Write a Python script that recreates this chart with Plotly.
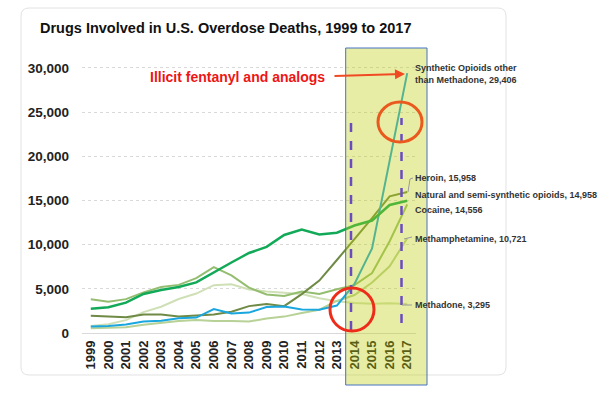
import plotly.graph_objects as go

years = ["1999", "2000", "2001", "2002", "2003", "2004", "2005", "2006", "2007", "2008",
         "2009", "2010", "2011", "2012", "2013", "2014", "2015", "2016", "2017"]

synthetic = [730, 782, 957, 1295, 1400, 1664, 1742, 2707, 2213, 2306, 2946, 3007, 2666, 2628, 3105, 5544, 9580, 19413, 29406]
heroin = [1960, 1842, 1779, 2089, 2080, 1878, 2009, 2088, 2399, 3041, 3278, 3036, 4397, 5925, 8257, 10574, 12989, 15469, 15958]
natural = [2749, 2917, 3434, 4416, 4867, 5197, 5731, 6900, 7978, 9049, 9748, 11089, 11693, 11140, 11346, 12159, 12727, 14487, 14958]
cocaine = [3822, 3544, 3833, 4599, 5199, 5443, 6208, 7448, 6512, 5129, 4350, 4183, 4681, 4404, 4944, 5415, 6784, 10375, 14556]
meth = [547, 578, 650, 930, 1163, 1358, 1479, 1357, 1348, 1302, 1632, 1854, 2266, 2635, 3627, 4298, 5716, 7542, 10721]
methadone = [784, 986, 1456, 2358, 2972, 3845, 4460, 5406, 5518, 4924, 4696, 4577, 4418, 3932, 3591, 3400, 3301, 3373, 3295]

y_ticks = [0, 5000, 10000, 15000, 20000, 25000, 30000]

labels = [
    ("Synthetic Opioids other<br>than Methadone, 29,406", 29300),
    ("Heroin, 15,958", 17550),
    ("Natural and semi-synthetic opioids, 14,958", 15620),
    ("Cocaine, 14,556", 13925),
    ("Methamphetamine, 10,721", 10640),
    ("Methadone, 3,295", 3170),
]

series = [
    ("Methadone", methadone, "#cfe0b6", 2),
    ("Methamphetamine", meth, "#b7d196", 2),
    ("Cocaine", cocaine, "#94bd70", 2),
    ("Heroin", heroin, "#6f8a45", 2),
    ("Synthetic", synthetic, "#1aa6de", 2),
    ("Natural", natural, "#12aa58", 2.5),
]

W, H = 609, 398
ML, MR, MT, MB = 82, 193, 59, 65
PW, PH = W - ML - MR, H - MT - MB


def px(x):
    return (x - ML) / PW


def py(y):
    return (H - MB - y) / PH


fig = go.Figure()
for name, vals, color, width in series:
    fig.add_trace(go.Scatter(x=years, y=vals, mode="lines", name=name,
                             line=dict(color=color, width=width), showlegend=False))

# card outline (rounded rectangle)
x0, x1, y0, y1, r = 21, 506, 8, 375, 8
pts = [
    ("M", x0 + r, y0), ("L", x1 - r, y0), ("Q", x1, y0, x1, y0 + r), ("L", x1, y1 - r),
    ("Q", x1, y1, x1 - r, y1), ("L", x0 + r, y1), ("Q", x0, y1, x0, y1 - r),
    ("L", x0, y0 + r), ("Q", x0, y0, x0 + r, y0),
]
path = ""
for p in pts:
    cmd = p[0]
    coords = p[1:]
    seg = []
    for i in range(0, len(coords), 2):
        seg.append(f"{px(coords[i]):.5f},{py(coords[i + 1]):.5f}")
    path += cmd + " ".join(seg) + " "
path += "Z"

shapes = [
    dict(type="path", path=path, xref="paper", yref="paper", layer="below",
         line=dict(color="#e2e2e2", width=1), fillcolor="rgba(0,0,0,0)"),
    dict(type="rect", xref="paper", yref="paper", x0=px(345.7), x1=px(427), y0=py(385), y1=py(48),
         fillcolor="rgba(191,205,5,0.36)", line=dict(color="#4472c4", width=1), layer="above"),
    dict(type="line", xref="paper", yref="paper", x0=px(351), x1=px(351), y0=py(330), y1=py(118),
         line=dict(color="#6a4cc0", width=2.5, dash="dash"), layer="above"),
    dict(type="line", xref="paper", yref="paper", x0=px(401.5), x1=px(401.5), y0=py(323), y1=py(118),
         line=dict(color="#6a4cc0", width=2.5, dash="dash"), layer="above"),
    dict(type="circle", xref="paper", yref="paper", x0=px(378), x1=px(422), y0=py(142), y1=py(102),
         line=dict(color="#ea5a1e", width=3), layer="above"),
    dict(type="circle", xref="paper", yref="paper", x0=px(330), x1=px(374), y0=py(331), y1=py(288),
         line=dict(color="#ee2c1a", width=3), layer="above"),
    # leader lines
    dict(type="path", xref="paper", yref="paper",
         path=f"M{px(408):.5f},{py(192):.5f} L{px(410):.5f},{py(179):.5f} L{px(413):.5f},{py(178):.5f}",
         line=dict(color="#9a9a9a", width=1), layer="above"),
    dict(type="line", xref="paper", yref="paper", x0=px(402), x1=px(412), y0=py(305), y1=py(305),
         line=dict(color="#9a9a9a", width=1), layer="above"),
    dict(type="line", xref="paper", yref="paper", x0=px(404), x1=px(412), y0=py(239), y1=py(237),
         line=dict(color="#9a9a9a", width=1), layer="above"),
]

annotations = []
for text, yv in labels:
    annotations.append(dict(x=len(years) - 1, y=yv, xref="x", yref="y", text=text, showarrow=False,
                            xanchor="left", yanchor="middle", xshift=6, align="left",
                            font=dict(family="Liberation Sans, Arial", size=9, color="#333333",
                                      weight="bold")))

annotations.append(dict(x=px(327), y=py(77), xref="paper", yref="paper",
                        text="Illicit fentanyl and analogs", showarrow=False,
                        xanchor="right", yanchor="middle",
                        font=dict(family="Liberation Sans, Arial", size=14, color="#ee1515",
                                  weight="bold")))
annotations.append(dict(x=px(405), y=py(74), xref="paper", yref="paper", text="",
                        showarrow=True, ax=-72, ay=2, axref="pixel", ayref="pixel",
                        arrowhead=2, arrowsize=1, arrowwidth=2, arrowcolor="#f04a23"))

fig.update_layout(
    width=W, height=H,
    margin=dict(l=ML, r=MR, t=MT, b=MB, pad=0),
    paper_bgcolor="white", plot_bgcolor="white",
    title=dict(text="Drugs Involved in U.S. Overdose Deaths, 1999 to 2017",
               x=40 / W, xref="container", xanchor="left",
               y=1 - 28 / H, yref="container", yanchor="middle",
               font=dict(family="Liberation Sans, Arial", size=14.5, color="#111111", weight="bold")),
    shapes=shapes,
    annotations=annotations,
    showlegend=False,
)
fig.update_xaxes(type="category", range=[-0.5, len(years) - 0.5], tickangle=-90,
                 showgrid=False, showline=False, zeroline=False, ticks="",
                 ticklabelstandoff=4,
                 tickfont=dict(family="Liberation Sans, Arial", size=13, color="#222222", weight="bold"))
fig.update_yaxes(range=[0, 31000], tickvals=y_ticks, tickformat=",",
                 showgrid=True, gridcolor="#d9d9d9", griddash="dot", gridwidth=1,
                 zeroline=True, zerolinecolor="#d9d9d9", zerolinewidth=1,
                 showline=False, ticks="", ticklabelstandoff=12,
                 tickfont=dict(family="Liberation Sans, Arial", size=13.5, color="#222222", weight="bold"))

fig.write_html("out.html", config={"displayModeBar": False},
               post_script="document.body.style.margin='0';")
